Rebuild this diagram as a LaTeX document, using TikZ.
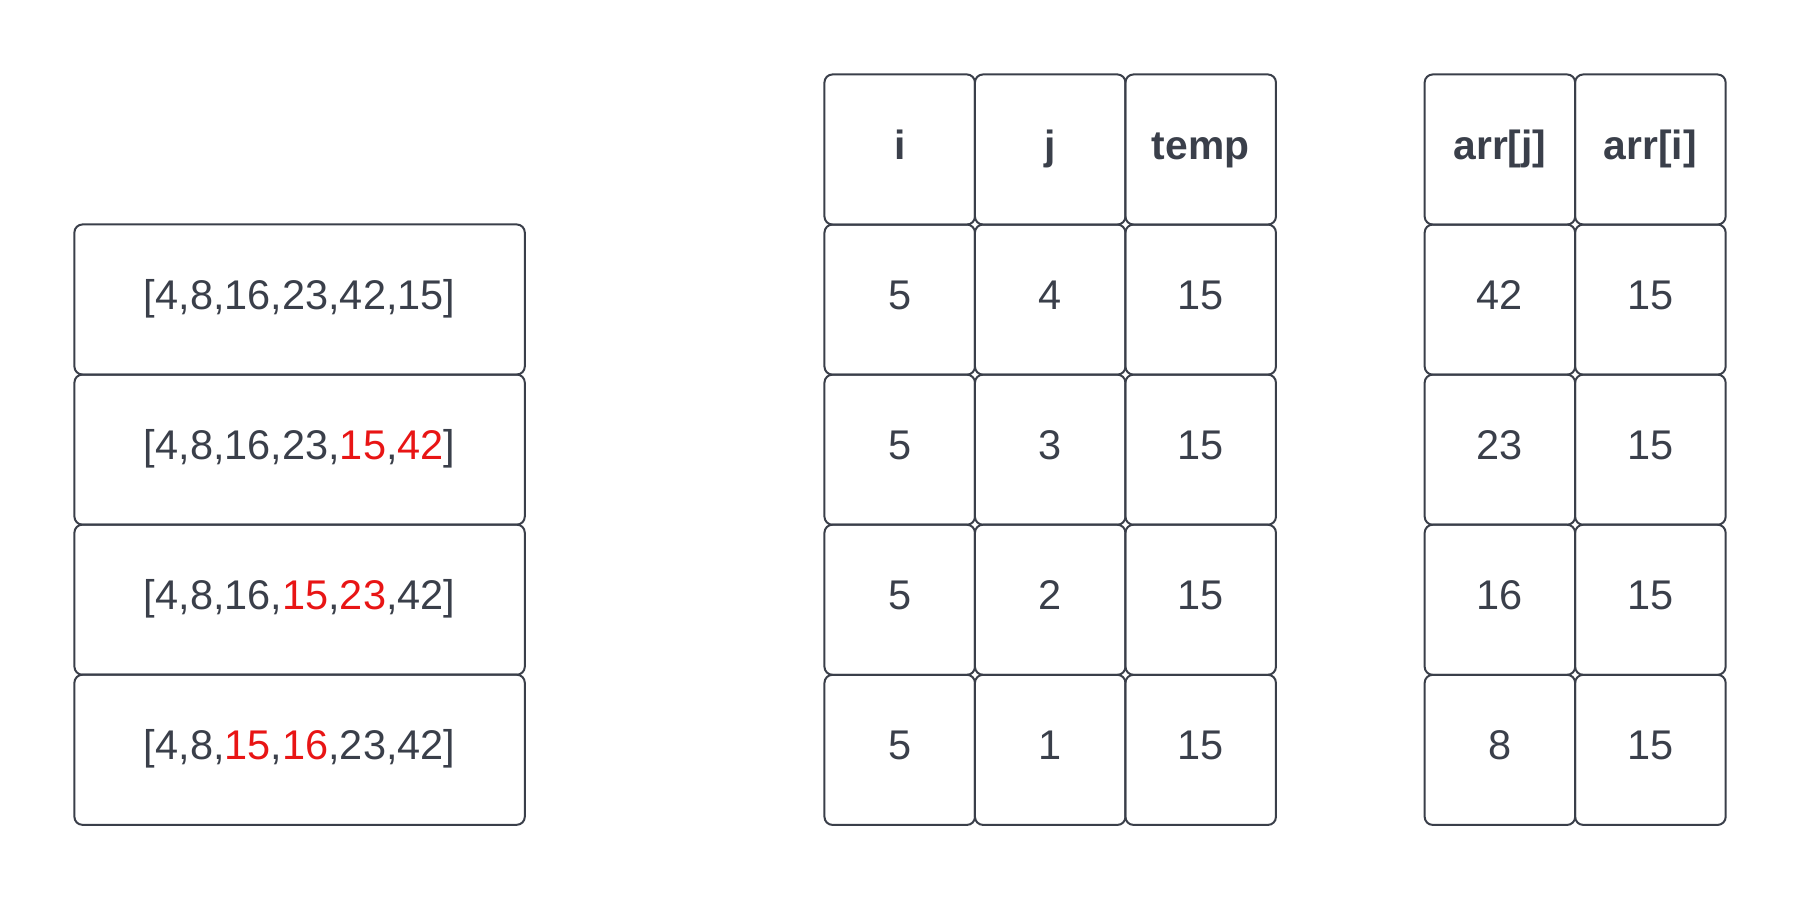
\documentclass[tikz,border=0pt]{standalone}
\usepackage{fontspec}
\setmainfont{Liberation Sans}
\usetikzlibrary{positioning}
\definecolor{cellgray}{HTML}{3A3F4A}
\definecolor{swapred}{HTML}{E81515}
\tikzset{
  cell/.style={draw=cellgray, line width=0.57pt, rounded corners=0.08cm,
    minimum width=1.504cm, minimum height=1.5cm, inner sep=0pt, outer sep=0pt,
    text=cellgray, font=\fontsize{11.8}{14}\selectfont, text height=0.8em, text depth=0.25em},
  arraybox/.style={cell, minimum width=4.501cm},
  headcell/.style={cell, font=\fontsize{11.6}{14}\selectfont\bfseries}
}
\begin{document}
\begin{tikzpicture}[x=0.01cm, y=-0.01cm]
\useasboundingbox (0,0) rectangle (1800,900);
\def\RED#1{\textcolor{swapred}{#1}}
%array states
\node[arraybox] (arr1) at (299.6,299.5) {[4,8,16,23,42,15]};
\node[arraybox, below=0pt of arr1] (arr2) {[4,8,16,23,\RED{15},\RED{42}]};
\node[arraybox, below=0pt of arr2] (arr3) {[4,8,16,\RED{15},\RED{23},42]};
\node[arraybox, below=0pt of arr3] (arr4) {[4,8,\RED{15},\RED{16},23,42]};
%loop variables
\node[headcell] (hi) at (899.7,149.5) {i};
\node[headcell, right=0pt of hi] (hj) {j};
\node[headcell, right=0pt of hj] (htemp) {temp};
\node[cell, below=0pt of hi] (i1) {5};
\node[cell, below=0pt of i1] (i2) {5};
\node[cell, below=0pt of i2] (i3) {5};
\node[cell, below=0pt of i3] (i4) {5};
\node[cell, below=0pt of hj] (j1) {4};
\node[cell, below=0pt of j1] (j2) {3};
\node[cell, below=0pt of j2] (j3) {2};
\node[cell, below=0pt of j3] (j4) {1};
\node[cell, below=0pt of htemp] (temp1) {15};
\node[cell, below=0pt of temp1] (temp2) {15};
\node[cell, below=0pt of temp2] (temp3) {15};
\node[cell, below=0pt of temp3] (temp4) {15};
%compared values
\node[headcell] (harrj) at (1499.9,149.5) {arr[j]};
\node[headcell, right=0pt of harrj] (harri) {arr[i]};
\node[cell, below=0pt of harrj] (arrj1) {42};
\node[cell, below=0pt of arrj1] (arrj2) {23};
\node[cell, below=0pt of arrj2] (arrj3) {16};
\node[cell, below=0pt of arrj3] (arrj4) {8};
\node[cell, below=0pt of harri] (arri1) {15};
\node[cell, below=0pt of arri1] (arri2) {15};
\node[cell, below=0pt of arri2] (arri3) {15};
\node[cell, below=0pt of arri3] (arri4) {15};
\end{tikzpicture}
\end{document}
